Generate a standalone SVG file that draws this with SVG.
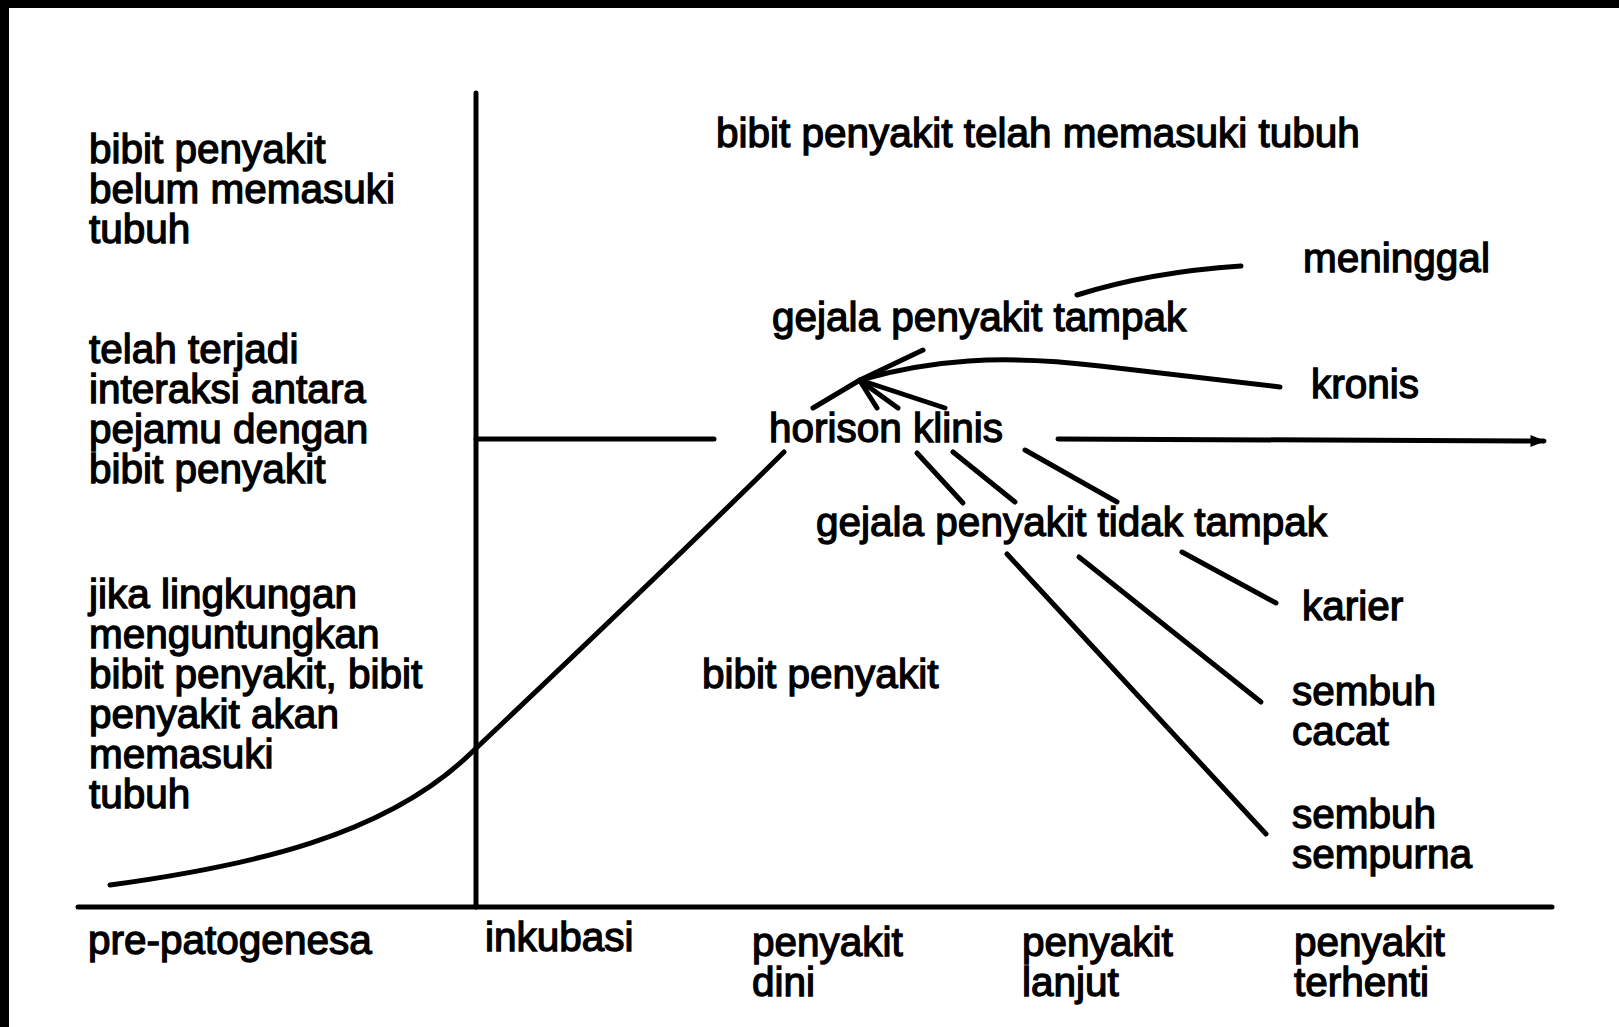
<svg xmlns="http://www.w3.org/2000/svg" width="1619" height="1027" viewBox="0 0 1619 1027">
<style>
text{font-family:"Liberation Sans",Arial,Helvetica,sans-serif;font-size:40.5px;fill:#000;stroke:#000;stroke-width:1.3}
.ln{fill:none;stroke:#000;stroke-linecap:round;stroke-linejoin:round;stroke-width:5}
</style>
<defs>
<marker id="ah" viewBox="0 0 10 10" refX="9" refY="5" markerWidth="3" markerHeight="3" orient="auto" markerUnits="strokeWidth">
<path d="M0,1 L10,5 L0,9 z" fill="#000"/>
</marker>
</defs>
<rect x="0" y="0" width="1619" height="1027" fill="#fff"/>
<rect x="0" y="0" width="1619" height="8" fill="#000"/>
<rect x="0" y="0" width="9" height="1027" fill="#000"/>

<g id="connectors">
<line class="ln" x1="476" y1="93" x2="476" y2="907" stroke-width="7"/>
<line class="ln" x1="78" y1="907" x2="1552" y2="907" stroke-width="6"/>
<line class="ln" x1="476" y1="439" x2="714" y2="439"/>
<line class="ln" x1="1058" y1="439" x2="1544" y2="441" marker-end="url(#ah)"/>
<path class="ln" d="M110,885 C250,866 385,836 470,754 C580,650 690,545 784,452"/>
<line class="ln" x1="813" y1="408" x2="860" y2="380" stroke-width="7"/>
<line class="ln" x1="923" y1="350" x2="860" y2="380"/>
<line class="ln" x1="877" y1="408" x2="860" y2="381"/>
<line class="ln" x1="898" y1="408" x2="862" y2="382"/>
<line class="ln" x1="945" y1="408" x2="866" y2="382"/>
<path class="ln" d="M860,380 C930,360 1000,354 1100,366 L1280,387"/>
<path class="ln" d="M1077,295 Q1150,272 1241,266"/>
<line class="ln" x1="917" y1="453" x2="963" y2="503"/>
<line class="ln" x1="953" y1="452" x2="1015" y2="502"/>
<line class="ln" x1="1025" y1="450" x2="1117" y2="502"/>
<line class="ln" x1="1007" y1="554" x2="1266" y2="834"/>
<line class="ln" x1="1079" y1="557" x2="1261" y2="702"/>
<line class="ln" x1="1182" y1="552" x2="1276" y2="603"/>
</g>

<g id="pre-belum"><text x="89" y="163">bibit penyakit</text><text x="89" y="203">belum memasuki</text><text x="89" y="243">tubuh</text></g>
<g id="pre-interaksi"><text x="89" y="363">telah terjadi</text><text x="89" y="403">interaksi antara</text><text x="89" y="443">pejamu dengan</text><text x="89" y="483">bibit penyakit</text></g>
<g id="pre-lingkungan"><text x="89" y="608">jika lingkungan</text><text x="89" y="648">menguntungkan</text><text x="89" y="688">bibit penyakit, bibit</text><text x="89" y="728">penyakit akan</text><text x="89" y="768">memasuki</text><text x="89" y="808">tubuh</text></g>
<g id="telah-masuk"><text x="716" y="147">bibit penyakit telah memasuki tubuh</text></g>
<g id="meninggal"><text x="1303" y="272">meninggal</text></g>
<g id="gejala-tampak"><text x="772" y="331">gejala penyakit tampak</text></g>
<g id="kronis"><text x="1311" y="398">kronis</text></g>
<g id="horison"><text x="769" y="442">horison klinis</text></g>
<g id="gejala-tidak"><text x="816" y="536">gejala penyakit tidak tampak</text></g>
<g id="bibit-mid"><text x="702" y="688">bibit penyakit</text></g>
<g id="karier"><text x="1302" y="620">karier</text></g>
<g id="sembuh-cacat"><text x="1292" y="705">sembuh</text><text x="1292" y="745">cacat</text></g>
<g id="sembuh-sempurna"><text x="1292" y="828">sembuh</text><text x="1292" y="868">sempurna</text></g>
<g id="ax-pre"><text x="88" y="954">pre-patogenesa</text></g>
<g id="ax-inkubasi"><text x="485" y="951">inkubasi</text></g>
<g id="ax-dini"><text x="752" y="956">penyakit</text><text x="752" y="996">dini</text></g>
<g id="ax-lanjut"><text x="1022" y="956">penyakit</text><text x="1022" y="996">lanjut</text></g>
<g id="ax-terhenti"><text x="1294" y="956">penyakit</text><text x="1294" y="996">terhenti</text></g>
</svg>
